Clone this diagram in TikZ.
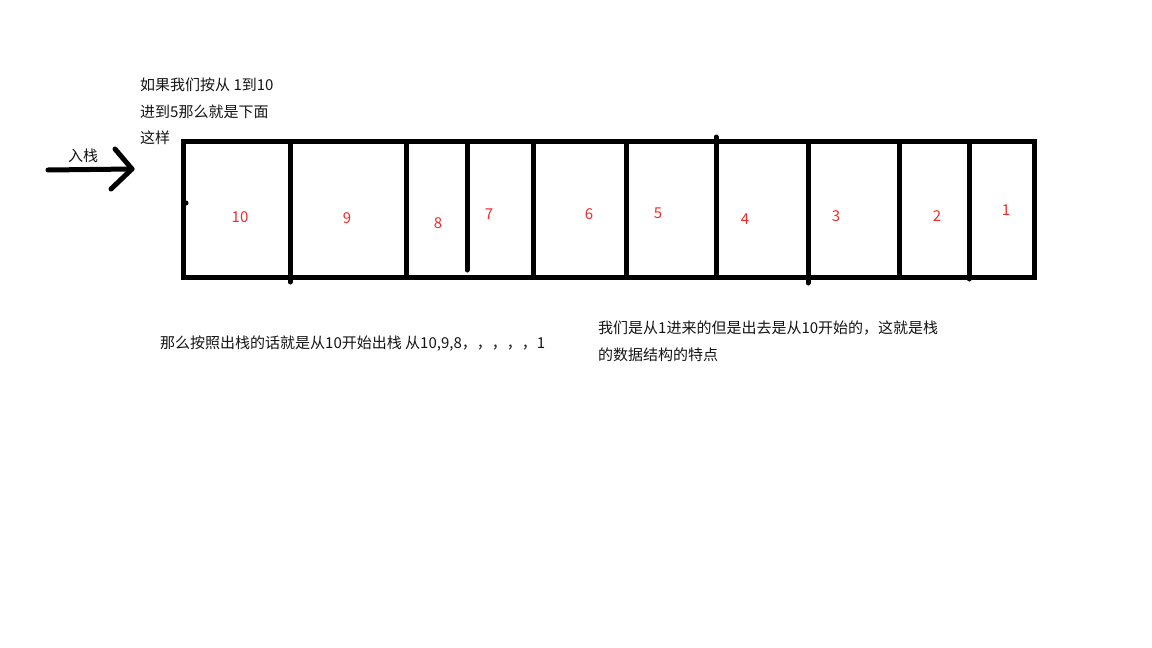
\documentclass[tikz,border=0pt]{standalone}
\usepackage{fontspec}
\setmainfont{Noto Sans CJK SC}
\definecolor{numred}{RGB}{235,45,45}
\definecolor{inkblack}{RGB}{20,20,20}

\begin{document}
\begin{tikzpicture}[x=1pt,y=-1pt,
    note/.style={anchor=west,inner sep=0pt,text=inkblack,font=\fontsize{15}{18}\selectfont},
    num/.style={inner sep=0pt,text=numred,font=\fontsize{15}{18}\selectfont},
    pen/.style={line width=5pt}]
    \useasboundingbox (0,0) rectangle (1152,648);

    % the stack
    \coordinate (tl) at (183,141);
    \coordinate (br) at (1034,277);
    \draw [pen] (tl) rectangle (br);
    \fill (186,203) circle (2.5);

    \draw [pen,line cap=round] (290,144) -- (290,282);
    \draw [pen] (406,141) -- (406,277);
    \draw [pen,line cap=round] (467,144) -- (467,270);
    \draw [pen] (533,141) -- (533,277);
    \draw [pen] (626,141) -- (626,277);
    \draw [pen,line cap=round] (716,137) -- (716,275);
    \draw [pen,line cap=round] (808,144) -- (808,283);
    \draw [pen] (899,141) -- (899,277);
    \draw [pen,line cap=round] (969,144) -- (969,279);

    \node [num] (n10) at (240,217) {10};
    \node [num] (n9) at (347,218) {9};
    \node [num] (n8) at (438,223) {8};
    \node [num] (n7) at (489,214) {7};
    \node [num] (n6) at (589,214) {6};
    \node [num] (n5) at (658,213) {5};
    \node [num] (n4) at (745,219) {4};
    \node [num] (n3) at (836,216) {3};
    \node [num] (n2) at (937,216) {2};
    \node [num] (n1) at (1006,210) {1};

    % push arrow
    \coordinate (a0) at (48,170);
    \coordinate (a1) at (132,169);
    \coordinate (h1) at (115,149);
    \coordinate (h2) at (111,189);
    \draw [pen,line cap=round] (a0) -- (a1);
    \draw [pen,line cap=round,line join=round] (h1) -- (a1) -- (h2);
    \node [note,anchor=center] (push) at (83,156) {入栈};

    % notes
    \node [note] (l1) at (140,85) {如果我们按从 1到10};
    \node [note] (l2) at (140,112) {进到5那么就是下面};
    \node [note] (l3) at (140,138) {这样};

    \node [note] (pop) at (160,344) {那么按照出栈的话就是从10开始出栈 从10,9,8，，，，，1};

    \node [note] (r1) at (598,328) {我们是从1进来的但是出去是从10开始的，这就是栈};
    \node [note] (r2) at (598,355) {的数据结构的特点};
\end{tikzpicture}
\end{document}
